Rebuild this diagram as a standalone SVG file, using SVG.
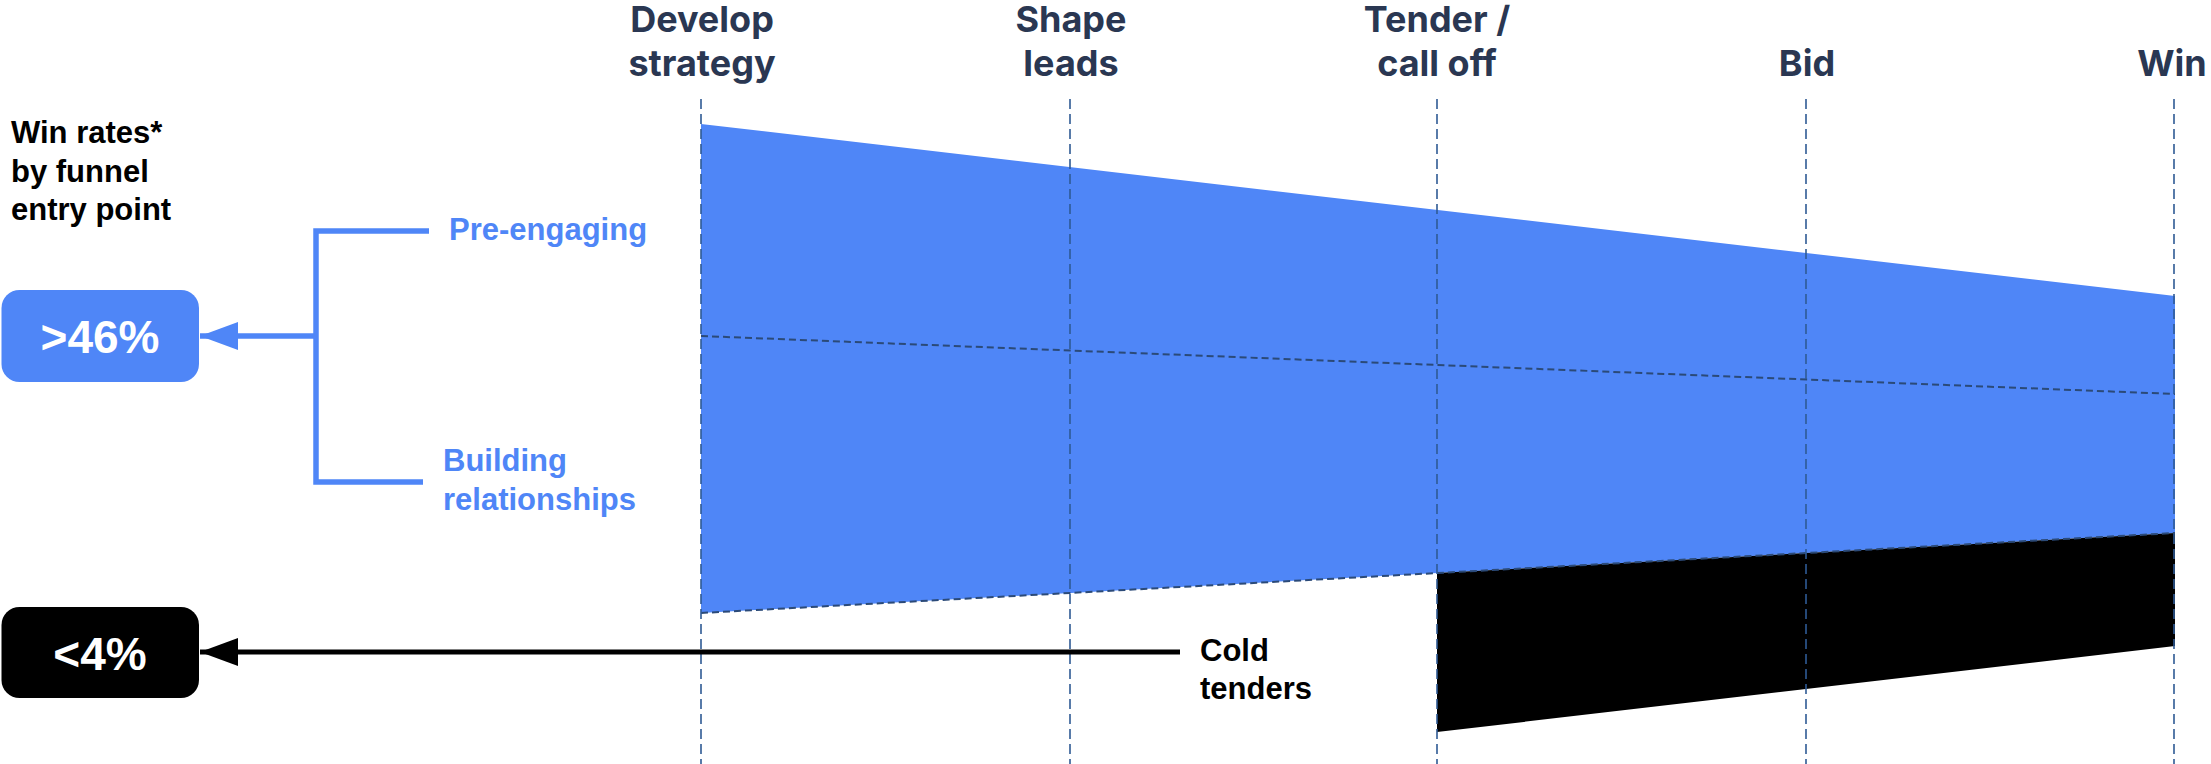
<svg xmlns="http://www.w3.org/2000/svg" width="2211" height="764" viewBox="0 0 2211 764">
  <defs>
    <style>
      .hdr { font-family: Inter, "Liberation Sans", Arial, sans-serif; font-weight: bold; font-size: 36px; fill: #2a3752; text-anchor: middle; }
      .lbl { font-family: "Liberation Sans", Arial, sans-serif; font-weight: bold; font-size: 31px; }
      .blue { fill: #4f86f7; }
      .big { font-family: "Liberation Sans", Arial, sans-serif; font-weight: bold; font-size: 46px; fill: #ffffff; text-anchor: middle; }
      .vdash { stroke: #2f5a94; stroke-width: 1.6; stroke-dasharray: 10 5; fill: none; }
      .idash { stroke: #2b4a78; stroke-width: 2; stroke-dasharray: 7 4; fill: none; }
    </style>
    <marker id="arrBlue" markerUnits="userSpaceOnUse" markerWidth="40" markerHeight="30" refX="38" refY="14" orient="auto">
      <path d="M0,0 L38,14 L0,28 Z" fill="#4f86f7"/>
    </marker>
    <marker id="arrBlack" markerUnits="userSpaceOnUse" markerWidth="40" markerHeight="30" refX="38" refY="14" orient="auto">
      <path d="M0,0 L38,14 L0,28 Z" fill="#000000"/>
    </marker>
  </defs>
  <rect width="2211" height="764" fill="#ffffff"/>

  <g id="funnel">
    <polygon id="funnel-blue" points="701,124 2175,296 2175,533 701,613" fill="#4f86f7"/>
    <polygon id="funnel-cold" points="1437,573 2175,533 2175,646 1437,732" fill="#000000"/>
    <line class="idash" x1="701" y1="336" x2="2175" y2="394"/>
    <line class="idash" x1="701" y1="613" x2="2175" y2="533"/>
  </g>

  <g id="stage-lines">
    <line class="vdash" x1="701" y1="99" x2="701" y2="764"/>
    <line class="vdash" x1="1070" y1="99" x2="1070" y2="764"/>
    <line class="vdash" x1="1437" y1="99" x2="1437" y2="764"/>
    <line class="vdash" x1="1806" y1="99" x2="1806" y2="764"/>
    <line class="vdash" x1="2174" y1="99" x2="2174" y2="764"/>
  </g>

  <g id="stage-develop"><text class="hdr" x="702" y="32">Develop</text><text class="hdr" x="702" y="76">strategy</text></g>
  <g id="stage-shape"><text class="hdr" x="1071" y="32">Shape</text><text class="hdr" x="1071" y="76">leads</text></g>
  <g id="stage-tender"><text class="hdr" x="1437" y="32">Tender /</text><text class="hdr" x="1437" y="76">call off</text></g>
  <g id="stage-bid"><text class="hdr" x="1807" y="76">Bid</text></g>
  <g id="stage-win"><text class="hdr" x="2172" y="76">Win</text></g>

  <g id="title">
    <text class="lbl" x="11" y="143" fill="#000000">Win rates*</text>
    <text class="lbl" x="11" y="182" fill="#000000">by funnel</text>
    <text class="lbl" x="11" y="220" fill="#000000">entry point</text>
  </g>

  <g id="box-high">
    <rect x="1.5" y="290" width="197.5" height="92" rx="18" fill="#4f86f7"/>
    <text class="big" x="100" y="353">&gt;46%</text>
  </g>
  <g id="box-low">
    <rect x="1.5" y="607" width="197.5" height="91" rx="18" fill="#000000"/>
    <text class="big" x="100" y="670">&lt;4%</text>
  </g>

  <g id="label-pre"><text class="lbl blue" x="449" y="240">Pre-engaging</text></g>
  <g id="label-building"><text class="lbl blue" x="443" y="471">Building</text><text class="lbl blue" x="443" y="510">relationships</text></g>
  <g id="label-cold"><text class="lbl" x="1200" y="661" fill="#000000">Cold</text><text class="lbl" x="1200" y="699" fill="#000000">tenders</text></g>

  <g id="connectors">
    <polyline points="429,231 316,231 316,482 423,482" fill="none" stroke="#4f86f7" stroke-width="5.5"/>
    <line x1="316" y1="336" x2="200" y2="336" stroke="#4f86f7" stroke-width="5.5" marker-end="url(#arrBlue)"/>
    <line x1="1180" y1="652" x2="200" y2="652" stroke="#000000" stroke-width="5" marker-end="url(#arrBlack)"/>
  </g>
</svg>
